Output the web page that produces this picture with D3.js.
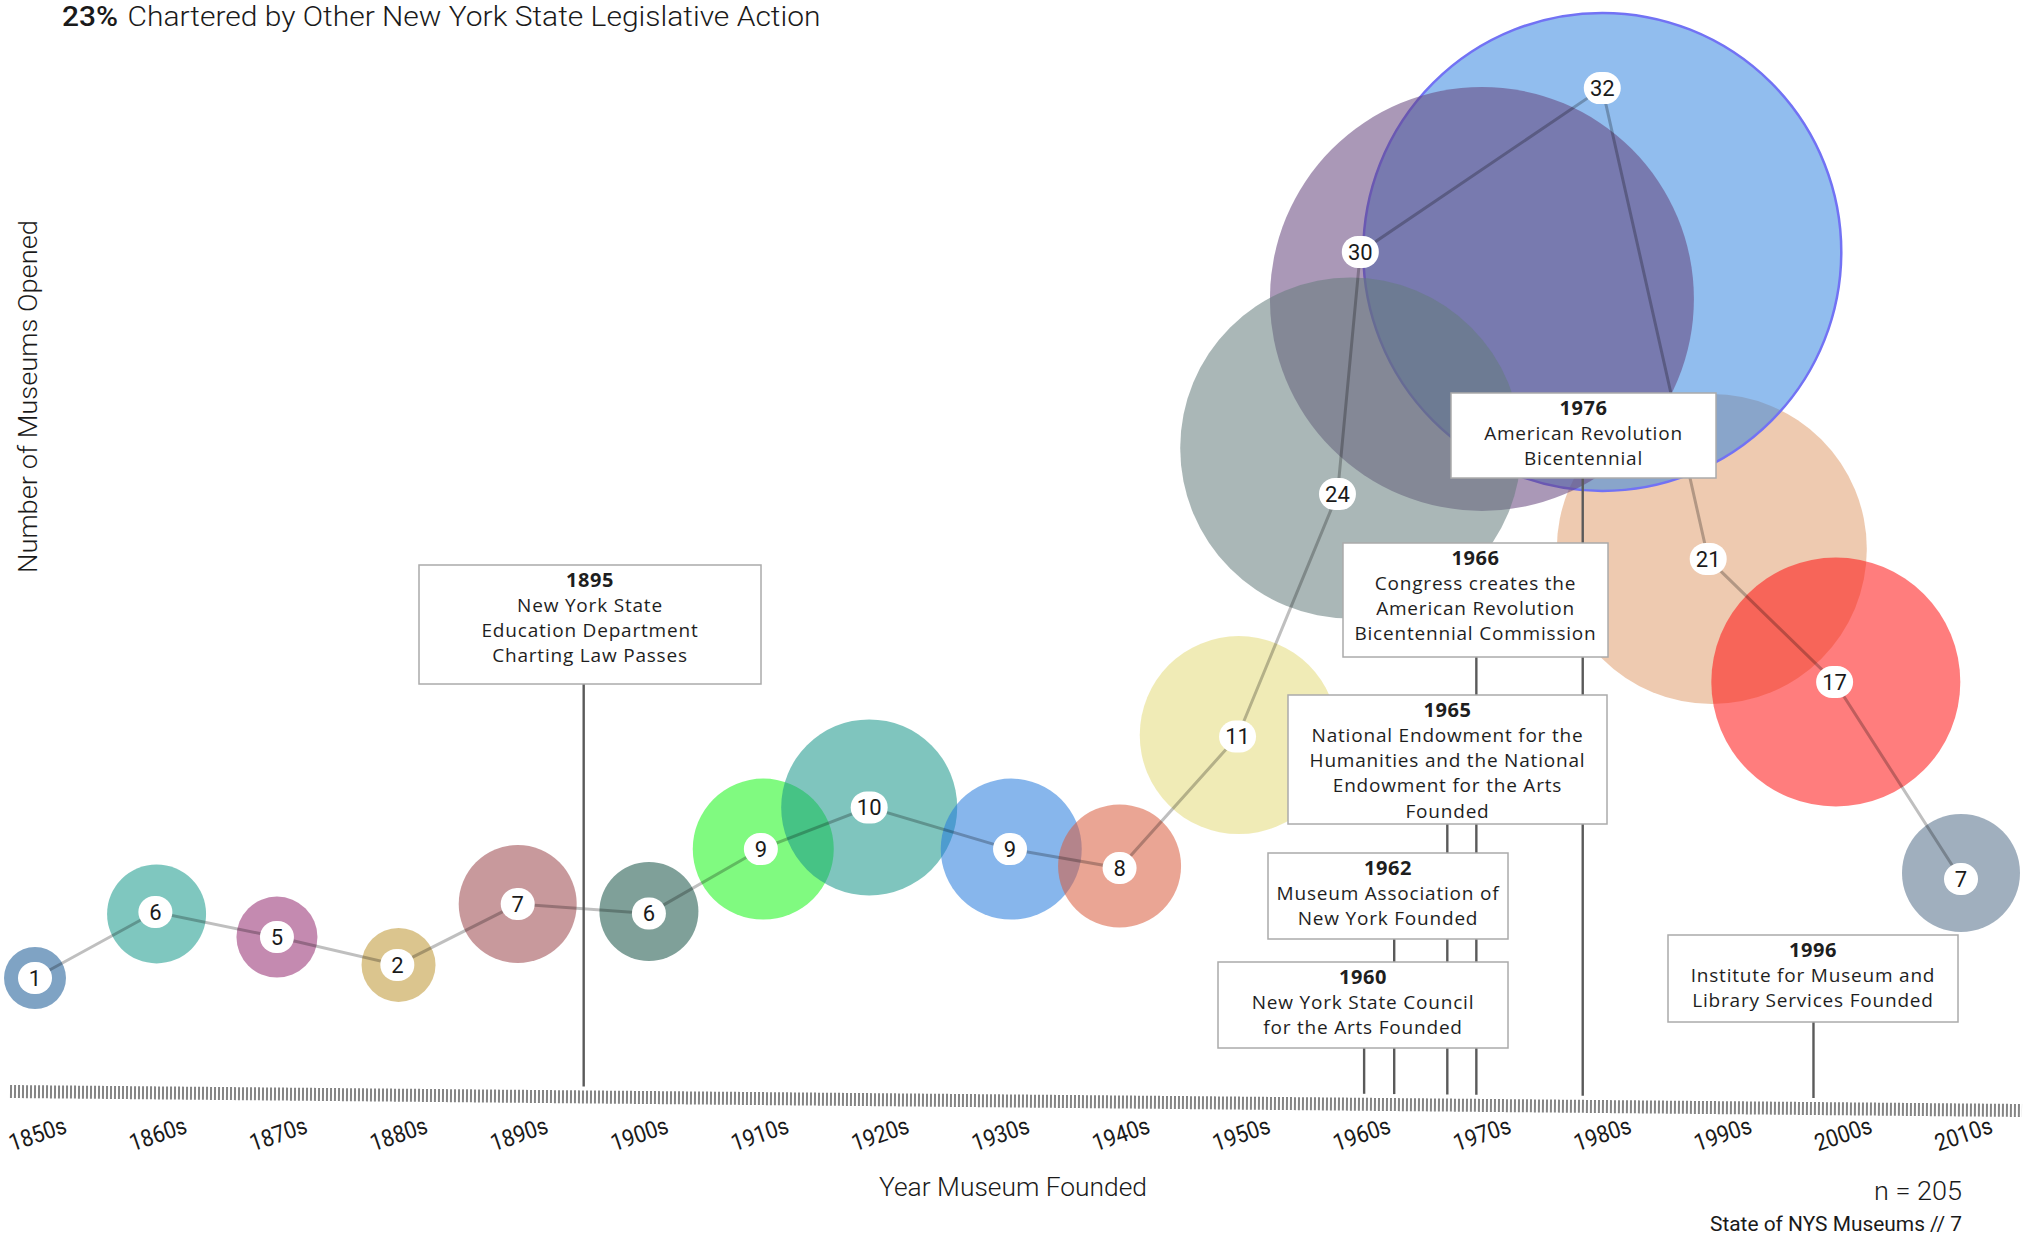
<!DOCTYPE html>
<html><head><meta charset="utf-8">
<script src="https://cdn.jsdelivr.net/npm/d3@7"></script>
<style>
html,body{margin:0;padding:0;background:#fff;}
svg{display:block;}
</style></head><body>
<svg id="chart" width="2026" height="1235"></svg>
<script>
// ---------------- DATA ----------------
const decades = ["1850s","1860s","1870s","1880s","1890s","1900s","1910s","1920s","1930s","1940s","1950s","1960s","1970s","1980s","1990s","2000s","2010s"];
const decadeStart = [1850,1860,1870,1880,1890,1900,1910,1920,1930,1940,1950,1960,1970,1980,1990,2000,2010];
const counts = [1,6,5,2,7,6,9,10,9,8,11,24,30,32,21,17,7];
// where each bubble sits (time axis years / hidden vertical axis units)
const bubbleYear  = [1850,1860.1,1870.1,1880.2,1890.1,1901,1910.5,1919.3,1931.1,1940.1,1950,1959.3,1970.2,1980.2,1989.3,1999.6,2010];
const bubbleLevel = [0.94,3.68,2.69,1.50,4.10,3.78,6.45,8.23,6.45,5.73,11.32,23.59,29.96,31.97,19.27,13.59,5.43];
// where each count marker (and the connecting line) sits
const markerYear  = [1850,1860,1870.1,1880.1,1890.1,1901,1910.3,1919.3,1931,1940.1,1949.9,1958.2,1960.1,1980.2,1989,1999.5,2010];
const markerLevel = [0.94,3.76,2.69,1.50,4.10,3.70,6.45,8.23,6.45,5.64,11.26,21.62,31.97,38.97,18.85,13.59,5.17];

const eventYears = [1895,1960,1962,1965,1966,1976,1996];
const eventLines = [
  ["New York State","Education Department","Charting Law Passes"],
  ["New York State Council","for the Arts Founded"],
  ["Museum Association of","New York Founded"],
  ["National Endowment for the","Humanities and the National","Endowment for the Arts","Founded"],
  ["Congress creates the","American Revolution","Bicentennial Commission"],
  ["American Revolution","Bicentennial"],
  ["Institute for Museum and","Library Services Founded"]
];
const totalN = 205;
const titlePct = "23%";
const titleRest = "Chartered by Other New York State Legislative Action";

// ---------------- STYLE / LAYOUT ----------------
const bubbleColors = ["#165894","#15998b","#942a6f","#be9632","#9b464b","#155246","#18f618","#159689","#257add","#d95b3c","#e4db7a","#647c7c","#64447c","#3787e0","#e09f6f","#ff1313","#526e89"];
const bubbleOpacity = 0.55;
// painting order (indices into decades)
const drawOrder = [0,1,2,3,4,5,6,7,8,9,10,14,13,12,11,15,16];
// annotation boxes: leader nudge (px), box left/right/top/bottom (px)
const annoLayout = [
  {dx:7,  l:419,  r:761,  t:565, b:684},
  {dx:5,  l:1218, r:1508, t:962, b:1048},
  {dx:11, l:1268, r:1508, t:853, b:939},
  {dx:28, l:1288, r:1607, t:695, b:824},
  {dx:45, l:1343, r:1608, t:543, b:657},
  {dx:31, l:1451, r:1716, t:393, b:478},
  {dx:21, l:1668, r:1958, t:935, b:1022}
];

const svg = d3.select("#chart");

const x = d3.scaleLinear().domain([1850, 2010]).range([35, 1961]);
const y = d3.scaleLinear().domain([0, 40]).range([1000, 64]);
const r = d3.scaleLinear()
  .domain([1,2,5,6,7,8,9,10,11,17,21,24,30,32])
  .range([31,37,40.5,49.5,59,61.5,70.5,88,99,124.5,155,170.5,212,239]);

// tick band (slightly slanted as in the original)
const bandX0 = 10, bandX1 = 2022, bandTop0 = 1085, bandTop1 = 1104, bandH = 13;
const bandTop = px => bandTop0 + (px - bandX0) * (bandTop1 - bandTop0) / (bandX1 - bandX0);

// ---------------- BUBBLES ----------------
const pts = decades.map((d,i) => ({i, decade:d, count:counts[i], bx:bubbleYear[i], by:bubbleLevel[i], mx:markerYear[i], my:markerLevel[i], color:bubbleColors[i]}));

svg.append("g").selectAll("circle")
  .data(drawOrder.map(i => pts[i]))
  .join("circle")
  .attr("cx", d => x(d.bx))
  .attr("cy", d => y(d.by))
  .attr("r", d => r(d.count))
  .attr("fill", d => d.color)
  .attr("fill-opacity", bubbleOpacity)
  .attr("stroke", d => d.decade === "1980s" ? "#7272f4" : "none")
  .attr("stroke-width", 2.5);

// connecting line
const line = d3.line().x(d => x(d.mx)).y(d => y(d.my));
svg.append("path")
  .datum(pts)
  .attr("d", line)
  .attr("fill", "none")
  .attr("stroke", "#000")
  .attr("stroke-opacity", 0.25)
  .attr("stroke-width", 3);

// markers
const mk = svg.append("g").selectAll("g").data(pts).join("g")
  .attr("transform", d => `translate(${x(d.mx)},${y(d.my)})`);
mk.append("rect")
  .attr("x", d => -(String(d.count).length > 1 ? 18.5 : 17))
  .attr("width", d => String(d.count).length > 1 ? 37 : 34)
  .attr("y", -16).attr("height", 32)
  .attr("rx", 16).attr("ry", 16)
  .attr("fill", "#fff");
mk.append("text")
  .attr("text-anchor", "middle")
  .attr("dy", "0.36em")
  .attr("font-family", "Roboto, sans-serif")
  .attr("font-size", 22)
  .attr("fill", "#1a1a1a")
  .text(d => d.count);

// ---------------- TIME AXIS ----------------
svg.append("line")
  .attr("x1", bandX0).attr("x2", bandX1)
  .attr("y1", bandTop0 + bandH/2).attr("y2", bandTop1 + bandH/2)
  .attr("stroke", "#858585")
  .attr("stroke-width", bandH)
  .attr("stroke-dasharray", "2 2");

const xAxis = d3.axisBottom(x)
  .tickValues(decadeStart)
  .tickFormat((d,i) => decades[i])
  .tickSize(0);
const gAx = svg.append("g").attr("transform", "translate(2,1134)").call(xAxis);
gAx.select(".domain").remove();
gAx.selectAll(".tick text")
  .attr("y", 0).attr("dy", "0.35em")
  .attr("x", 0)
  .attr("transform", "rotate(-19)")
  .attr("text-anchor", "middle")
  .attr("font-family", "Roboto, sans-serif")
  .attr("font-weight", 400)
  .attr("font-size", 24)
  .attr("fill", "#1a1a1a")
  .attr("textLength", 59)
  .attr("lengthAdjust", "spacingAndGlyphs");

// ---------------- EVENTS ----------------
const events = eventYears.map((yr,i) => ({year:yr, lines:eventLines[i], lay:annoLayout[i]}));
const gEv = svg.append("g");
gEv.selectAll("line").data(events).join("line")
  .attr("x1", d => x(d.year) + d.lay.dx)
  .attr("x2", d => x(d.year) + d.lay.dx)
  .attr("y1", d => (d.lay.t + d.lay.b)/2)
  .attr("y2", d => bandTop(x(d.year) + d.lay.dx) - 4)
  .attr("stroke", "#5a5a5a")
  .attr("stroke-width", 2.4);

const box = gEv.selectAll("g.box").data(events).join("g").attr("class","box");
box.append("rect")
  .attr("x", d => d.lay.l).attr("y", d => d.lay.t)
  .attr("width", d => d.lay.r - d.lay.l)
  .attr("height", d => d.lay.b - d.lay.t)
  .attr("fill", "#fff")
  .attr("stroke", "#ababab")
  .attr("stroke-width", 1.5);
box.each(function(d){
  const g = d3.select(this);
  const cx = (d.lay.l + d.lay.r)/2;
  const all = [String(d.year)].concat(d.lines);
  g.selectAll("text").data(all).join("text")
    .attr("x", cx)
    .attr("y", (t,j) => d.lay.t + 21.5 + j*25.3)
    .attr("text-anchor", "middle")
    .attr("font-family", "'Open Sans', sans-serif")
    .attr("font-size", (t,j) => j === 0 ? 20 : 19)
    .attr("letter-spacing", (t,j) => j === 0 ? 0.6 : 0.8)
    .attr("font-weight", (t,j) => j === 0 ? 700 : 400)
    .attr("fill", "#1e1e1e")
    .text(t => t);
});

// ---------------- TITLES ----------------
svg.append("text")
  .attr("x", 62).attr("y", 26)
  .attr("font-family", "Roboto, sans-serif")
  .attr("font-weight", 500)
  .attr("font-size", 28)
  .attr("fill", "#1a1a1a")
  .attr("textLength", 56).attr("lengthAdjust", "spacingAndGlyphs")
  .text(titlePct);
svg.append("text")
  .attr("x", 127.5).attr("y", 26)
  .attr("font-family", "Roboto, sans-serif")
  .attr("font-weight", 300)
  .attr("font-size", 28)
  .attr("fill", "#1a1a1a")
  .attr("textLength", 693).attr("lengthAdjust", "spacingAndGlyphs")
  .text(titleRest);

svg.append("text")
  .attr("transform", "translate(37,396.5) rotate(-90)")
  .attr("text-anchor", "middle")
  .attr("font-family", "Roboto, sans-serif")
  .attr("font-weight", 300)
  .attr("font-size", 26)
  .attr("fill", "#1a1a1a")
  .attr("textLength", 353).attr("lengthAdjust", "spacingAndGlyphs")
  .text("Number of Museums Opened");

svg.append("text")
  .attr("x", 1013).attr("y", 1196)
  .attr("text-anchor", "middle")
  .attr("font-family", "Roboto, sans-serif")
  .attr("font-weight", 300)
  .attr("font-size", 26)
  .attr("fill", "#1a1a1a")
  .attr("textLength", 268).attr("lengthAdjust", "spacingAndGlyphs")
  .text("Year Museum Founded");

svg.append("text")
  .attr("x", 1962).attr("y", 1200)
  .attr("text-anchor", "end")
  .attr("font-family", "Roboto, sans-serif")
  .attr("font-weight", 300)
  .attr("font-size", 26)
  .attr("fill", "#1a1a1a")
  .attr("textLength", 88).attr("lengthAdjust", "spacingAndGlyphs")
  .text("n = " + totalN);

svg.append("text")
  .attr("x", 1962).attr("y", 1231)
  .attr("text-anchor", "end")
  .attr("font-family", "Roboto, sans-serif")
  .attr("font-weight", 400)
  .attr("font-size", 20)
  .attr("fill", "#1a1a1a")
  .attr("textLength", 252).attr("lengthAdjust", "spacingAndGlyphs")
  .text("State of NYS Museums // 7");
</script>
</body></html>
